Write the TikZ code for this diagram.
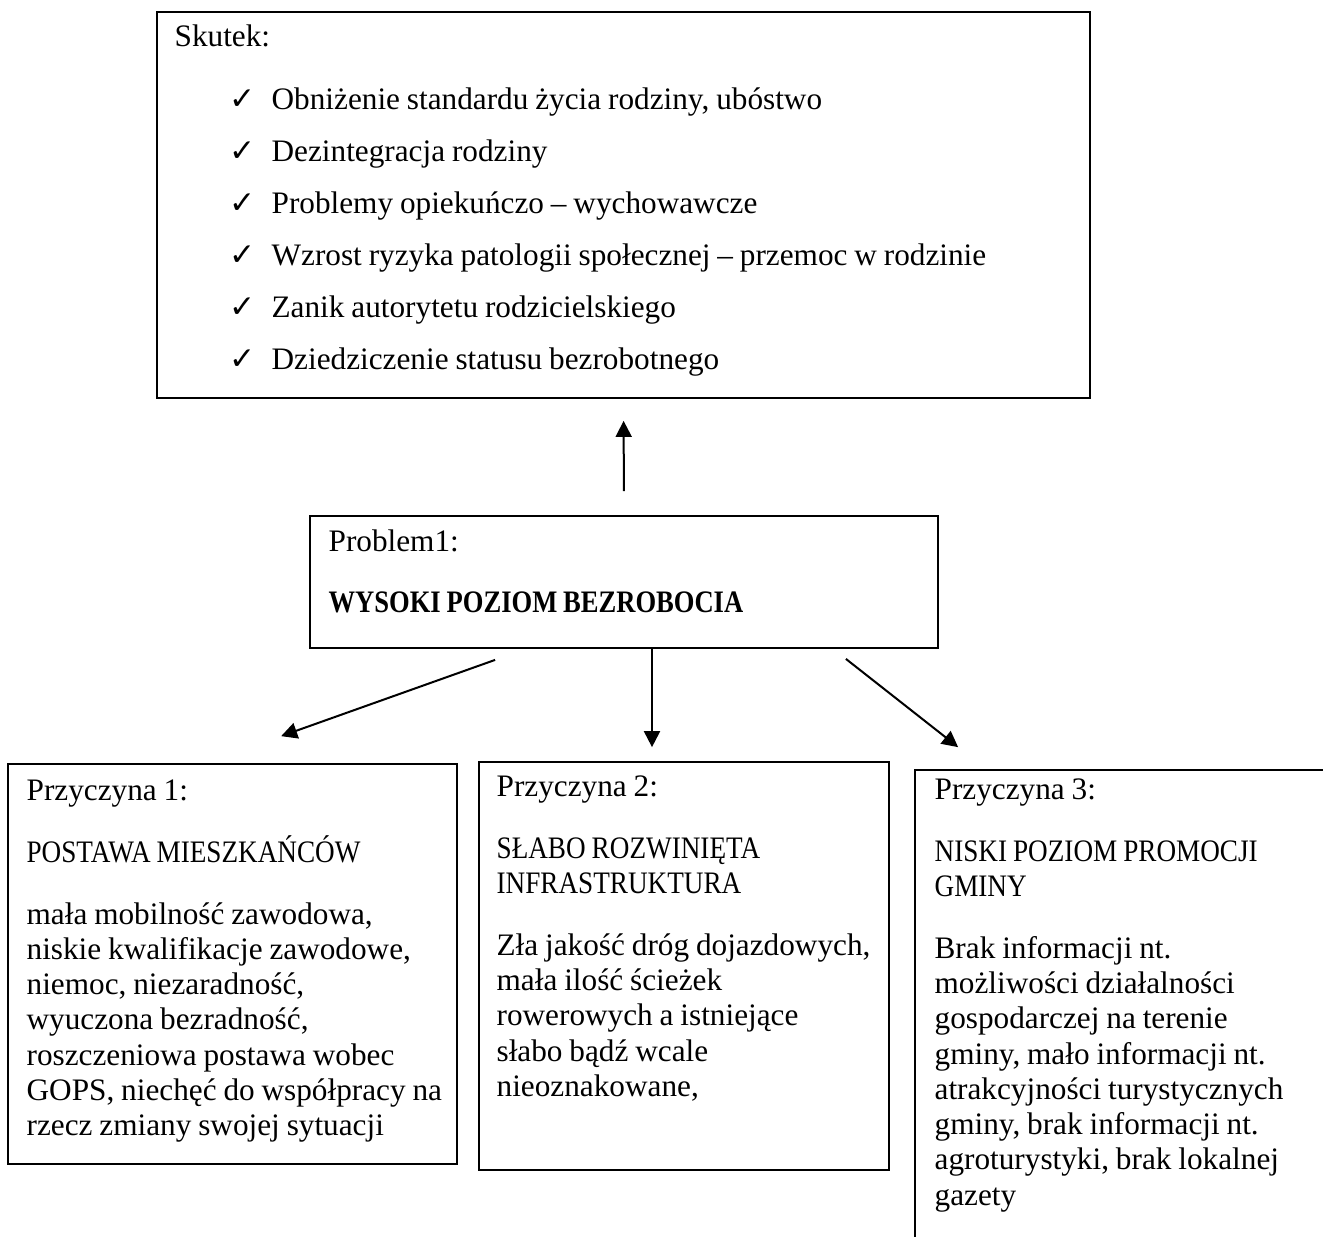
\documentclass[tikz,border=0pt]{standalone}
\usepackage{fontspec}
\usepackage{graphicx}
\setmainfont{Liberation Serif}
\newfontfamily\checkfont{DejaVu Sans}
\usetikzlibrary{fit, arrows.meta}

\newcommand{\chk}{\makebox[16.8pt][l]{\checkfont ✓}}
\newcommand{\capsline}[1]{\scalebox{0.87}[1]{#1}}

\begin{document}
\begin{tikzpicture}[x=0.4pt, y=-0.4pt,
box/.style={draw, line width=0.7pt, inner sep=0},
txt/.style={anchor=base west, align=left, inner sep=0, text width=400pt,
  font=\fontsize{12.5}{14.1}\selectfont,
  execute at begin node={\spaceskip=0.22em plus 0.1em minus 0.05em\relax}},
arr/.style={line width=0.8pt, -{Triangle[length=6.4pt, width=6.4pt]}}]

  \useasboundingbox (0,0) rectangle (1323,1236);

  \node[box, fit={(157,12) (1090,398)}] (skutek) {};
  \node[box, fit={(310,516) (938,648)}] (problem) {};
  \node[box, fit={(8,764) (457,1164)}] (cause1) {};
  \node[box, fit={(479,762) (889,1170)}] (cause2) {};
  \node[box, fit={(915,770) (1360,1260)}] (cause3) {};

  \node[txt] (skutekTitle) at ([shift={(18,35)}]skutek.north west) {Skutek:};
  \node[txt] (skutekList) at ([shift={(73,98)}]skutek.north west) {%
    \chk Obniżenie standardu życia rodziny, ubóstwo\\[6.7pt]
    \chk Dezintegracja rodziny\\[6.7pt]
    \chk Problemy opiekuńczo – wychowawcze\\[6.7pt]
    \chk Wzrost ryzyka patologii społecznej – przemoc w rodzinie\\[6.7pt]
    \chk Zanik autorytetu rodzicielskiego\\[6.7pt]
    \chk Dziedziczenie statusu bezrobotnego};

  \node[txt] (problemText) at ([shift={(19,36)}]problem.north west) {%
    Problem1:\\[10.3pt]
    \scalebox{0.85}[1]{\bfseries WYSOKI POZIOM BEZROBOCIA}};

  \node[txt] (cause1Text) at ([shift={(19,37)}]cause1.north west) {%
    Przyczyna 1:\\[10.7pt]
    \capsline{POSTAWA MIESZKAŃCÓW}\\[10.7pt]
    mała mobilność zawodowa,\\
    niskie kwalifikacje zawodowe,\\
    niemoc, niezaradność,\\
    wyuczona bezradność,\\
    roszczeniowa postawa wobec\\
    GOPS, niechęć do współpracy na\\
    rzecz zmiany swojej sytuacji};

  \node[txt] (cause2Text) at ([shift={(18,35)}]cause2.north west) {%
    Przyczyna 2:\\[10.7pt]
    \capsline{SŁABO ROZWINIĘTA}\\
    \capsline{INFRASTRUKTURA}\\[10.7pt]
    Zła jakość dróg dojazdowych,\\
    mała ilość ścieżek\\
    rowerowych a istniejące\\
    słabo bądź wcale\\
    nieoznakowane,};

  \node[txt] (cause3Text) at ([shift={(20,30)}]cause3.north west) {%
    Przyczyna 3:\\[10.7pt]
    \capsline{NISKI POZIOM PROMOCJI}\\
    \capsline{GMINY}\\[10.7pt]
    Brak informacji nt.\\
    możliwości działalności\\
    gospodarczej na terenie\\
    gminy, mało informacji nt.\\
    atrakcyjności turystycznych\\
    gminy, brak informacji nt.\\
    agroturystyki, brak lokalnej\\
    gazety};

  \draw[arr, shorten <=9.6pt, shorten >=8.8pt] (problem.north) -- (skutek.south);
  \draw[arr] ([shift={(186,11)}]problem.south west) -- ([shift={(274,-27)}]cause1.north west);
  \draw[arr] ([shift={(28,0)}]problem.south) -- ([shift={(-32,-14)}]cause2.north);
  \draw[arr] ([shift={(-93,10)}]problem.south east) -- ([shift={(44,-22)}]cause3.north west);
\end{tikzpicture}
\end{document}
